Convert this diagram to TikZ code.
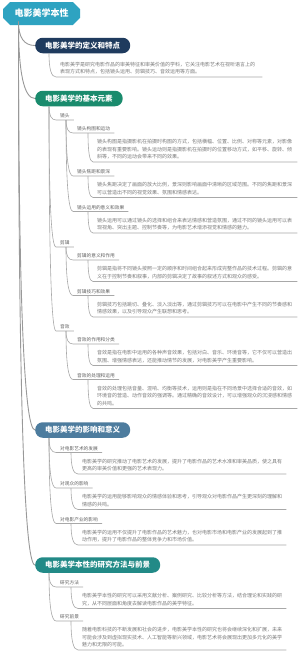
\documentclass[tikz,border=0pt]{standalone}
\usepackage{fontspec}
\newfontfamily\cjk{Noto Sans CJK SC}
\usetikzlibrary{calc,shapes.misc}
\definecolor{rootc}{HTML}{2EA3C1}
\definecolor{bonec}{HTML}{1F3B5E}
\definecolor{btwoc}{HTML}{1A8B6D}
\definecolor{bthreec}{HTML}{4D7C9E}
\definecolor{bfourc}{HTML}{228A87}
\definecolor{labc}{HTML}{606060}
\definecolor{parc}{HTML}{7A7A7A}
\definecolor{linec}{HTML}{999999}
\definecolor{sublc}{HTML}{A8A8A8}
\tikzset{
 rootn/.style={chamfered rectangle, chamfered rectangle xsep=5pt, fill=rootc, text=white,
   font=\cjk\bfseries\fontsize{9}{10}\selectfont, minimum width=77pt, minimum height=23pt, inner sep=0pt},
 brn/.style={rounded corners=7.5pt, text=white, font=\cjk\bfseries\fontsize{7.5}{8}\selectfont,
   minimum height=15.5pt, inner xsep=10pt, inner ysep=0pt, anchor=west},
 lbl/.style={anchor=south west, font=\cjk\fontsize{4.7}{5.6}\selectfont, text=labc, inner xsep=4pt, inner ysep=1.6pt},
 para/.style={anchor=south west, font=\cjk\fontsize{5}{7.5}\selectfont, text=parc, inner xsep=4pt, inner ysep=2.5pt, align=left},
 mainline/.style={draw=linec, line width=0.9pt},
 subline/.style={draw=sublc, line width=0.6pt},
 qc/.style={to path={.. controls ($(\tikztostart)!0.667!(\tikztostart|-\tikztotarget)$) and ($(\tikztotarget)!0.667!(\tikztostart|-\tikztotarget)$) .. (\tikztotarget)}}
}
\newcommand\mmconn[2]{\draw[subline] (#1) to[qc] (#2.south west) -- (#2.south east);}
\begin{document}
\begin{tikzpicture}[x=1pt,y=-1pt]
\fill[white] (0,0) rectangle (300,651);
\useasboundingbox (0,0) rectangle (300,651);

% root and branches
\node[rootn] (root) at (41.5,13.5) {电影美学本性};
\node[brn, fill=bonec] (b1) at (35,45.5) {电影美学的定义和特点};
\node[brn, fill=btwoc] (b2) at (35,98.5) {电影美学的基本元素};
\node[brn, fill=bthreec] (b3) at (35,430) {电影美学的影响和意义};
\node[brn, fill=bfourc] (b4) at (35,565) {电影美学本性的研究方法与前景};

\coordinate (rs) at ($(root.south west)+(12,0)$);
\foreach \b in {b1,b2,b3,b4} \draw[mainline] (rs) to[qc] (\b.west);

% branch 1
\node[para, text width=198pt] (p1) at (56,77) {电影美学是研究电影作品的审美特征和审美价值的学科，它关注电影艺术在视听语言上的\\表现方式和特点，包括镜头运用、剪辑技巧、音效运用等方面。};
\coordinate (b1s) at ($(b1.south west)+(14,0)$);
\mmconn{b1s}{p1}

% branch 2
\coordinate (b2s) at ($(b2.south west)+(14,0)$);
\node[lbl] (jt) at (56,120) {镜头};
\node[lbl] (jj) at (56,247) {剪辑};
\node[lbl] (yx) at (56,331) {音效};
\mmconn{b2s}{jt}
\mmconn{b2s}{jj}
\mmconn{b2s}{yx}

\node[lbl] (jt1) at (73,133) {镜头构图和运动};
\node[lbl] (jt2) at (73,176) {镜头焦距和景深};
\node[lbl] (jt3) at (73,211.5) {镜头运用的意义和效果};
\coordinate (jts) at ($(jt.south west)+(10,0)$);
\mmconn{jts}{jt1}
\mmconn{jts}{jt2}
\mmconn{jts}{jt3}

\node[para, text width=196pt] (pj1) at (93,162) {镜头构图是指摄影机在拍摄时构图的方式，包括横幅、位置、比例、对称等元素，对影像\\的表现有重要影响。镜头运动则是指摄影机在拍摄时的位置移动方式，如平移、旋转、倾\\斜等，不同的运动会带来不同的效果。};
\node[para, text width=196pt] (pj2) at (93,197.5) {镜头焦距决定了画面的放大比例，景深则影响画面中清晰的区域范围。不同的焦距和景深\\可以营造出不同的视觉效果、氛围和情感表达。};
\node[para, text width=196pt] (pj3) at (93,233) {镜头运用可以通过镜头的选择和组合来表达情感和营造氛围，通过不同的镜头运用可以表\\现视角、突出主题、控制节奏等，为电影艺术增添视觉和情感的魅力。};
\coordinate (jt1s) at ($(jt1.south west)+(15,0)$);
\coordinate (jt2s) at ($(jt2.south west)+(15,0)$);
\coordinate (jt3s) at ($(jt3.south west)+(15,0)$);
\mmconn{jt1s}{pj1}
\mmconn{jt2s}{pj2}
\mmconn{jt3s}{pj3}

\node[lbl] (jj1) at (73,260) {剪辑的意义和作用};
\node[lbl] (jj2) at (73,295.5) {剪辑技巧和效果};
\coordinate (jjs) at ($(jj.south west)+(10,0)$);
\mmconn{jjs}{jj1}
\mmconn{jjs}{jj2}
\node[para, text width=196pt] (pjj1) at (93,281.5) {剪辑是指将不同镜头按照一定的顺序和时间组合起来形成完整作品的技术过程。剪辑的意\\义在于控制节奏和叙事，内部的剪辑决定了故事的叙述方式和观众的感受。};
\node[para, text width=196pt] (pjj2) at (93,317) {剪辑技巧包括跳切、叠化、淡入淡出等，通过剪辑技巧可以在电影中产生不同的节奏感和\\情感效果，以及引导观众产生联想和思考。};
\coordinate (jj1s) at ($(jj1.south west)+(15,0)$);
\coordinate (jj2s) at ($(jj2.south west)+(15,0)$);
\mmconn{jj1s}{pjj1}
\mmconn{jj2s}{pjj2}

\node[lbl] (yx1) at (73,344) {音效的作用和分类};
\node[lbl] (yx2) at (73,379.5) {音效的处理和运用};
\coordinate (yxs) at ($(yx.south west)+(10,0)$);
\mmconn{yxs}{yx1}
\mmconn{yxs}{yx2}
\node[para, text width=196pt] (pyx1) at (93,365.5) {音效是指在电影中运用的各种声音效果，包括对白、音乐、环境音等，它不仅可以营造出\\氛围、增强情感表达，还能推动情节的发展，对电影美学产生重要影响。};
\node[para, text width=196pt] (pyx2) at (93,408.5) {音效的处理包括音量、混响、均衡等技术，运用则是指在不同场景中选择合适的音效，如\\环境音的营造、动作音效的强调等。通过精确的音效设计，可以增强观众的沉浸感和情感\\的共鸣。};
\coordinate (yx1s) at ($(yx1.south west)+(15,0)$);
\coordinate (yx2s) at ($(yx2.south west)+(15,0)$);
\mmconn{yx1s}{pyx1}
\mmconn{yx2s}{pyx2}

% branch 3
\coordinate (b3s) at ($(b3.south west)+(14,0)$);
\node[lbl] (e1) at (56,452.5) {对电影艺术的发展};
\node[lbl] (e2) at (56,488) {对观众的影响};
\node[lbl] (e3) at (56,523.5) {对电影产业的影响};
\mmconn{b3s}{e1}
\mmconn{b3s}{e2}
\mmconn{b3s}{e3}
\node[para, text width=200pt] (pe1) at (78,474) {电影美学的研究推动了电影艺术的发展，提升了电影作品的艺术水准和审美品质，使之具有\\更高的审美价值和更强的艺术表现力。};
\node[para, text width=200pt] (pe2) at (78,509.5) {电影美学的运用能够影响观众的情感体验和思考，引导观众对电影作品产生更深刻的理解和\\情感的共鸣。};
\node[para, text width=200pt] (pe3) at (78,545) {电影美学的运用不仅提升了电影作品的艺术魅力，也对电影市场和电影产业的发展起到了推\\动作用，提升了电影作品的整体竞争力和市场价值。};
\coordinate (e1s) at ($(e1.south west)+(15,0)$);
\coordinate (e2s) at ($(e2.south west)+(15,0)$);
\coordinate (e3s) at ($(e3.south west)+(15,0)$);
\mmconn{e1s}{pe1}
\mmconn{e2s}{pe2}
\mmconn{e3s}{pe3}

% branch 4
\coordinate (b4s) at ($(b4.south west)+(14,0)$);
\node[lbl] (f1) at (56,587) {研究方法};
\node[lbl] (f2) at (56,621) {研究前景};
\mmconn{b4s}{f1}
\mmconn{b4s}{f2}
\node[para, text width=200pt] (pf1) at (78,608.5) {电影美学本性的研究可以采用文献分析、案例研究、比较分析等方法，结合理论和实践的研\\究，从不同层面和角度去解读电影作品的美学特征。};
\node[para, text width=200pt] (pf2) at (78,650) {随着电影科技的不断发展和社会的进步，电影美学本性的研究也将会继续深化和扩展，未来\\可能会涉及到虚拟现实技术、人工智能等新兴领域，电影艺术将会展现出更加多元化的美学\\魅力和无限的可能。};
\coordinate (f1s) at ($(f1.south west)+(15,0)$);
\coordinate (f2s) at ($(f2.south west)+(15,0)$);
\mmconn{f1s}{pf1}
\mmconn{f2s}{pf2}
\end{tikzpicture}
\end{document}
